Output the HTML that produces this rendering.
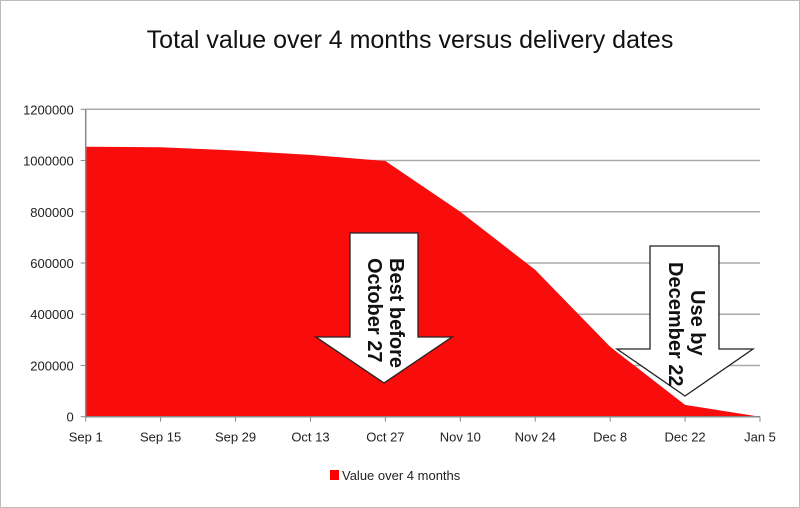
<!DOCTYPE html>
<html><head><meta charset="utf-8"><style>
body{margin:0;background:#fff}
svg{display:block;font-family:"Liberation Sans",sans-serif}
</style></head><body>
<svg width="800" height="508" viewBox="0 0 800 508">
<rect x="0.5" y="0.5" width="799" height="507" fill="#fff" stroke="#bbb"/>
<text x="410" y="48" font-size="25" text-anchor="middle" fill="#111">Total value over 4 months versus delivery dates</text>
<g id="grid"></g><g id="area"></g><g id="axes"></g>
<g>
<polygon points="350,233 418,233 418,337 452,337 384,383 316,337 350,337" fill="#fff" stroke="#222" stroke-width="1.3"/>
<text transform="translate(384,258) rotate(90)" font-size="20" font-weight="bold" fill="#111"><tspan x="0" y="-6">Best before</tspan><tspan x="0" y="16">October 27</tspan></text>
</g>
<g>
<polygon points="650,246 719,246 719,349 753,349 685,396 617,349 650,349" fill="#fff" stroke="#222" stroke-width="1.3"/>
<text transform="translate(685,262) rotate(90)" font-size="20" font-weight="bold" fill="#111" text-anchor="start"><tspan x="28" y="-6">Use by</tspan><tspan x="0" y="16">December 22</tspan></text>
</g>
<rect x="330" y="470" width="9" height="10" fill="#f00"/>
<text x="342" y="480" font-size="13" fill="#222">Value over 4 months</text>
</svg>
<script>
const categories=["Sep 1","Sep 15","Sep 29","Oct 13","Oct 27","Nov 10","Nov 24","Dec 8","Dec 22","Jan 5"];
const values=[1054000,1052000,1039000,1022000,998000,800000,573000,273000,46000,0];
const yTicks=[0,200000,400000,600000,800000,1000000,1200000];
const NS="http://www.w3.org/2000/svg";
const x0=85.7,x1=760,y0=416.7,y1=109.3,yMax=1200000;
const xs=i=>x0+(x1-x0)*i/(categories.length-1);
const ys=v=>y0-(y0-y1)*v/yMax;
function mk(t,a,p){const e=document.createElementNS(NS,t);for(const k in a)e.setAttribute(k,a[k]);p.appendChild(e);return e;}
const grid=document.getElementById('grid'),axes=document.getElementById('axes'),area=document.getElementById('area');
yTicks.forEach(v=>{
 if(v>0){const l=mk('line',{x1:x0,x2:x1,y1:ys(v),y2:ys(v),stroke:'#aaa','stroke-width':1.5},grid);
 
 }
 const t=mk('text',{x:x0-12,y:ys(v)+5,'font-size':13,'text-anchor':'end',fill:'#222'},axes);t.textContent=v;
 
 
 const tk=mk('line',{x1:x0-5,x2:x0,y1:ys(v),y2:ys(v),stroke:'#888'},axes);
 
 
});
let d=`M${xs(0)},${ys(0)}`;values.forEach((v,i)=>d+=` L${xs(i)},${ys(v)}`);d+=` L${xs(values.length-1)},${ys(0)} Z`;
const p=mk('path',{d:d,fill:'#f80c0c'},area);


const ax=mk('line',{x1:x0,x2:x1,y1:y0,y2:y0,stroke:'#888','stroke-width':1.5},axes);


const ay=mk('line',{x1:x0,x2:x0,y1:y1,y2:y0,stroke:'#888','stroke-width':1.5},axes);


categories.forEach((c,i)=>{
 const tk=mk('line',{x1:xs(i),x2:xs(i),y1:y0,y2:y0+5,stroke:'#888'},axes);
 
 
 const t=mk('text',{x:xs(i),y:y0+25,'font-size':13,'text-anchor':'middle',fill:'#222'},axes);t.textContent=c;
 
 
});
</script>
</body></html>
